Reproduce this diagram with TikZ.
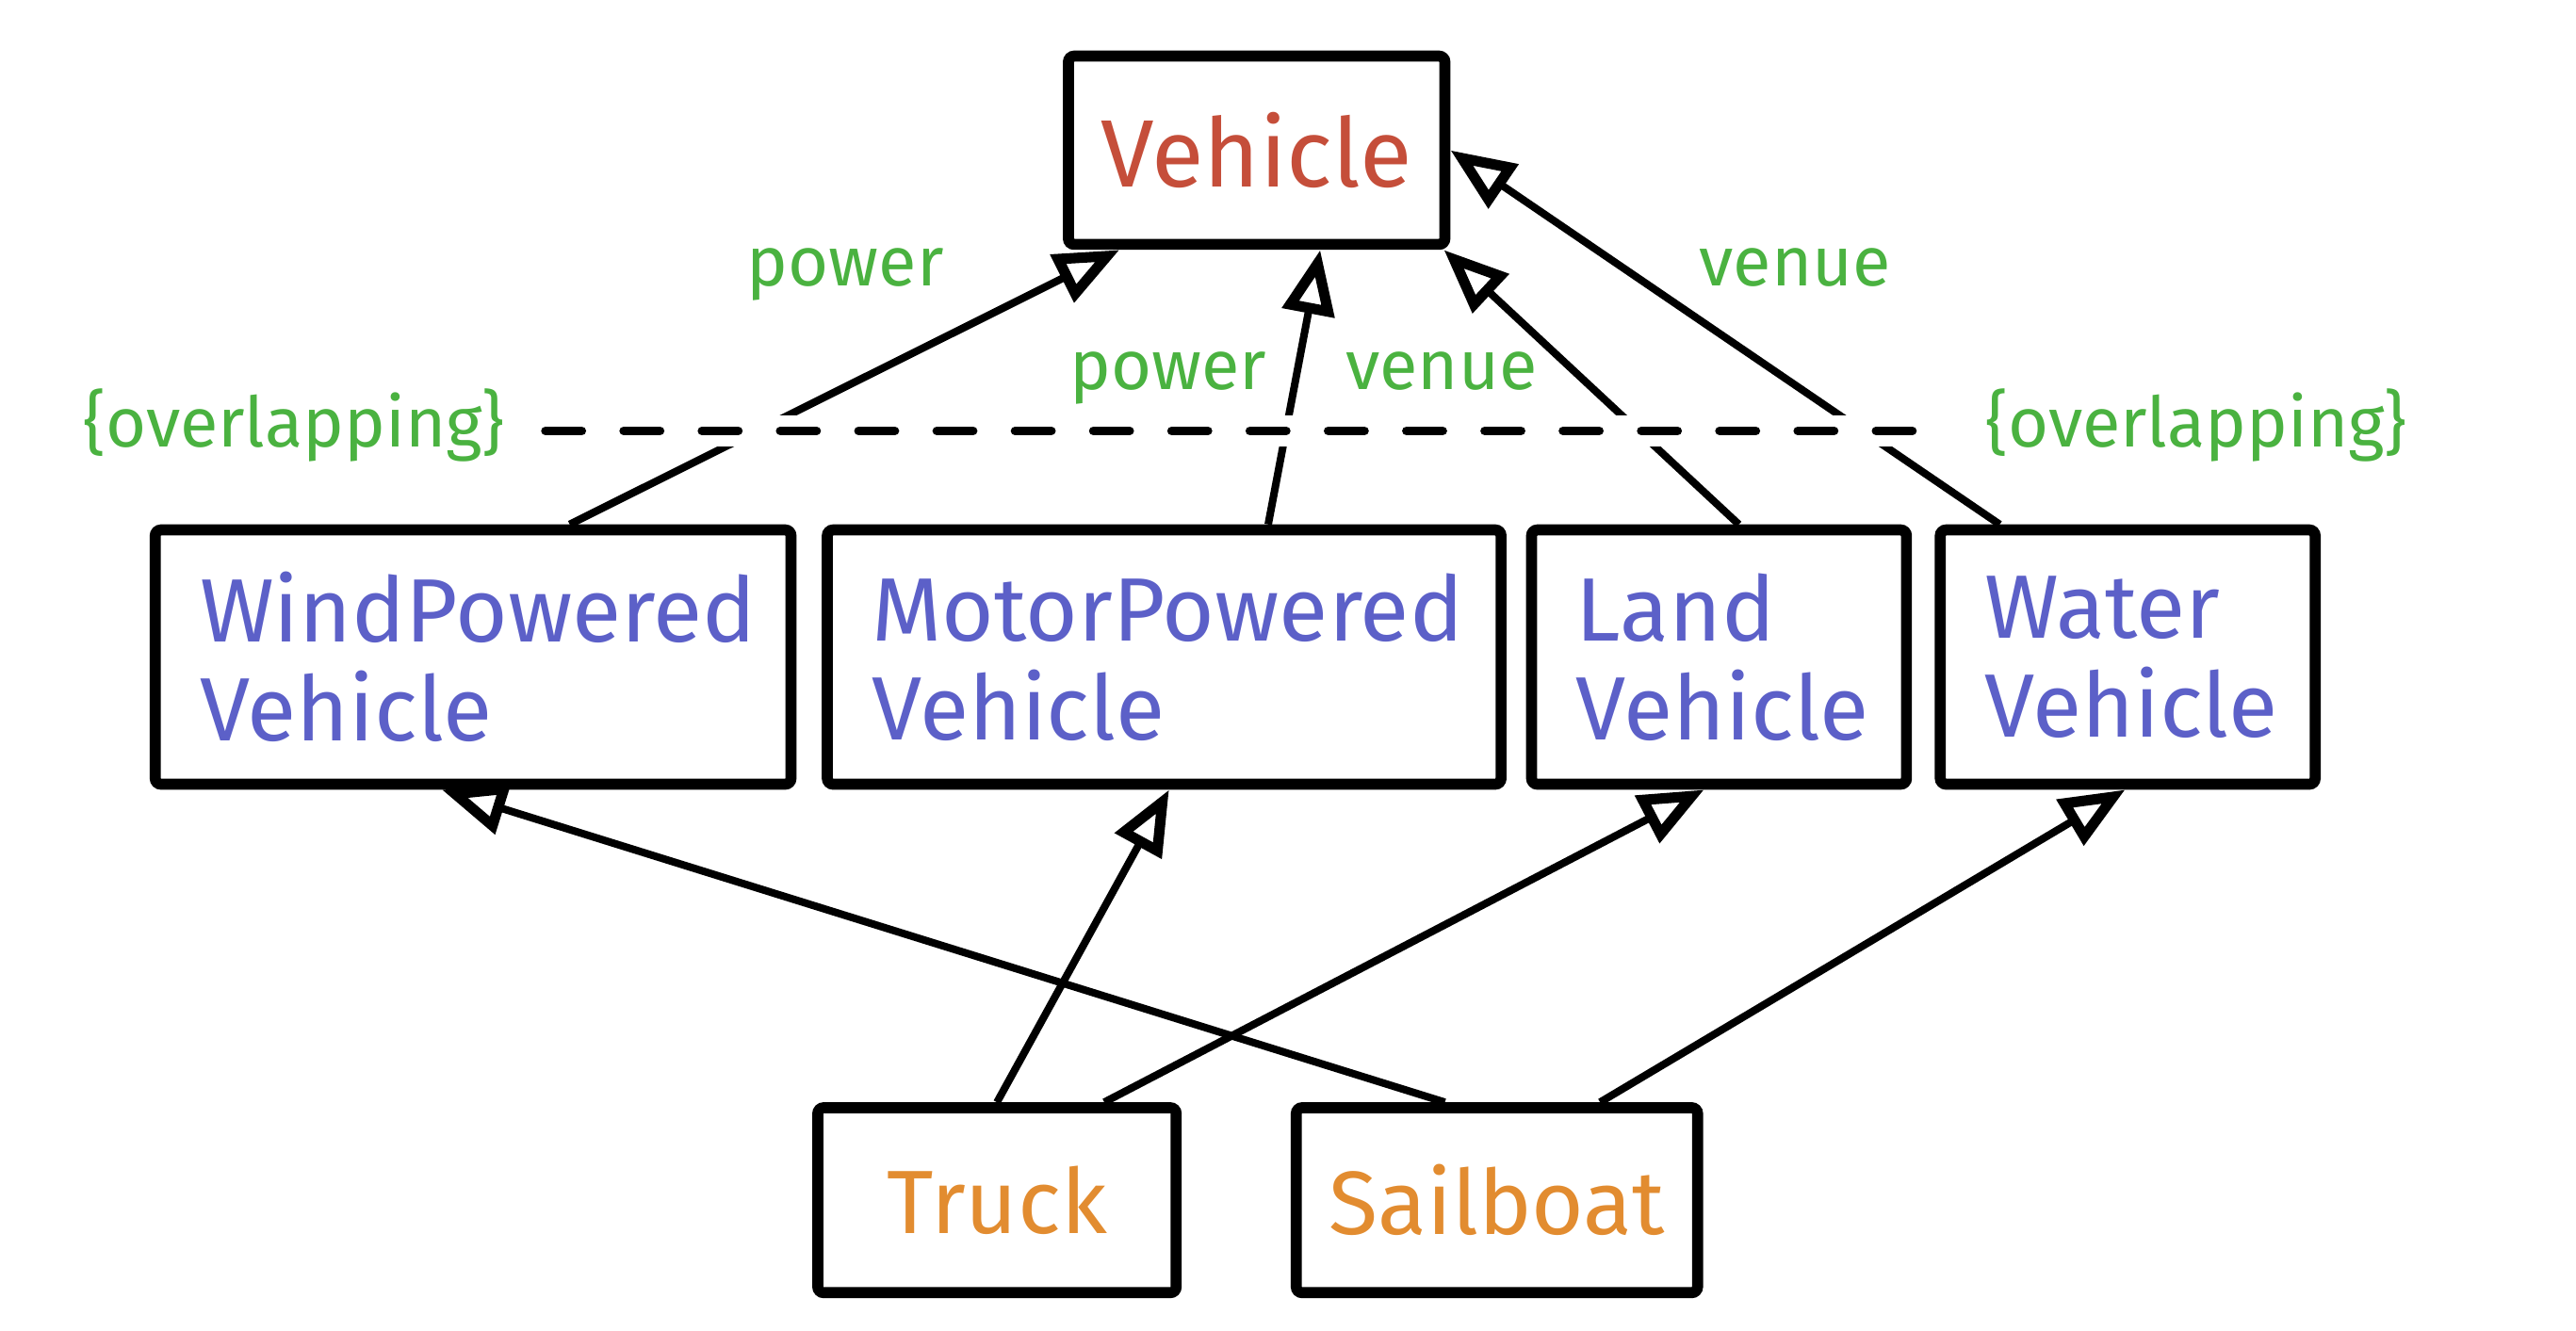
\documentclass[tikz,border=0pt]{standalone}
\usepackage{fontspec}
\setmainfont{Fira Sans}
\usetikzlibrary{arrows.meta}
\definecolor{supercol}{RGB}{197,78,58}
\definecolor{midcol}{RGB}{92,96,200}
\definecolor{subcol}{RGB}{226,140,48}
\definecolor{notecol}{RGB}{74,178,64}
\begin{document}
\begin{tikzpicture}
        \useasboundingbox (0,0) rectangle (15.6,8.057);
        \tikzstyle{every node}=[draw, line width=1.9pt, rounded corners=1pt, inner sep=0pt, font=\fontsize{15.5}{17}\selectfont]
        \node[text=supercol, minimum width=2.28cm, minimum height=1.14cm, font=\fontsize{16.5}{17}\selectfont] (veh) at (7.61, 7.147) {Vehicle};
        \node[text=subcol, minimum width=2.17cm, minimum height=1.12cm] (truck)    at (6.0375, 0.787) {Truck};
        \node[text=subcol, minimum width=2.43cm, minimum height=1.12cm] (sailboat) at (9.065,  0.787) {Sailboat};
        \tikzstyle{every node}=[draw, line width=1.9pt, rounded corners=1pt, inner ysep=0pt, inner xsep=0.27cm, align=left, text=midcol, minimum height=1.54cm, font=\fontsize{15.5}{17}\selectfont]
        \node[text width=3.31cm] (wind)  at (2.865,  4.077) {WindPowered\\Vehicle};
        \node[text width=3.54cm] (motor) at (7.05,   4.077) {MotorPowered\\Vehicle};
        \node[text width=1.73cm] (land)  at (10.41,  4.077) {Land\\Vehicle};
        \node[text width=1.73cm] (water) at (12.885, 4.077) {Water\\Vehicle};
        \tikzstyle{every node}=[text=notecol, inner sep=0pt, anchor=base, font=\fontsize{12}{14}\selectfont]
        \node (power-wind)  at (5.12,  6.327) {power};
        \node (power-motor) at (7.075, 5.70)  {power};
        \node (venue-land)  at (8.73,  5.70)  {venue};
        \node (venue-water) at (10.87, 6.327) {venue};
        \node (ovl-left)    at (1.78,  5.347) {\{overlapping\}};
        \node (ovl-right)   at (13.30, 5.347) {\{overlapping\}};
        \tikzstyle{isa}=[line width=1.3pt, -{Triangle[open, length=3.9mm, width=3.1mm, line width=1.8pt]}]
        \draw[isa] ([xshift=0.585cm]wind.north)  -- ([xshift=-0.83cm]veh.south);
        \draw[isa] ([xshift=0.63cm]motor.north)  -- ([xshift=0.385cm]veh.south);
        \draw[isa] ([xshift=0.12cm]land.north)   -- ([xshift=-0.04cm]veh.south east);
        \draw[isa] ([xshift=-0.775cm]water.north) -- (veh.east);
        \draw[isa] (truck.north)                  -- ([xshift=0.03cm]motor.south);
        \draw[isa] ([xshift=0.65cm]truck.north)   -- ([xshift=-0.09cm]land.south);
        \draw[isa] ([xshift=-0.315cm]sailboat.north) -- ([xshift=-0.19cm]wind.south);
        \draw[isa] ([xshift=0.625cm]sailboat.north)  -- ([xshift=-0.015cm]water.south);
        % overlapping constraint
        \draw[line width=1.5pt, line cap=round, dash pattern=on 2.2mm off 2.54mm,
              preaction={draw=white, solid, line width=5.4pt}]
              ([xshift=0.24cm, yshift=0.1cm]ovl-left.base east) -- ([xshift=-0.25cm, yshift=0.1cm]ovl-right.base west);
\end{tikzpicture}
\end{document}
